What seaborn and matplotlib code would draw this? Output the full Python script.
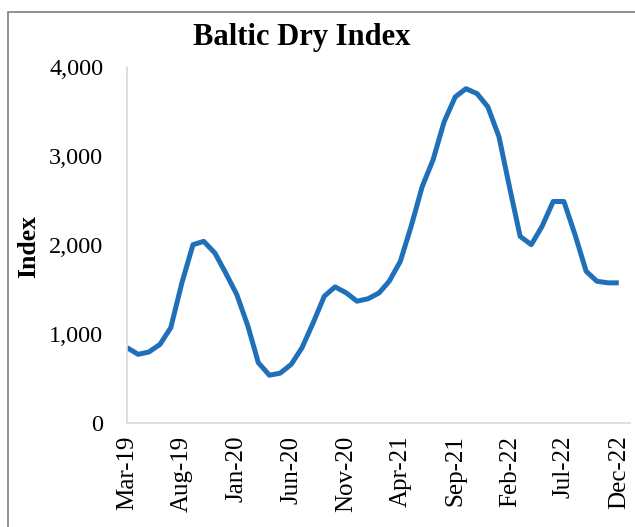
import pandas as pd
import numpy as np
import matplotlib
matplotlib.use("Agg")
import matplotlib.pyplot as plt
import matplotlib.dates as mdates
import matplotlib.ticker as mticker
from matplotlib.patches import Rectangle
import seaborn as sns

# monthly Baltic Dry Index readings, Mar-19 .. Dec-22
months = pd.date_range("2019-03-01", "2022-12-01", freq="MS")
bdi = [847, 772, 798, 884, 1071, 1575, 2004, 2041, 1910, 1687,
       1444, 1090, 679, 537, 560, 660, 847, 1127, 1425, 1530,
       1463, 1369, 1396, 1463, 1593, 1817, 2209, 2657, 2955, 3384,
       3664, 3757, 3701, 3552, 3216, 2619, 2097, 2004, 2209, 2489,
       2489, 2116, 1705, 1593, 1575, 1575]
tick_months = pd.date_range("2019-03-01", "2022-12-01", freq="5MS")
y_ticks = [0, 1000, 2000, 3000, 4000]

df = pd.DataFrame({"month": months, "bdi": bdi})

sns.set_style("white")
plt.rcParams["font.family"] = ["Liberation Serif", "DejaVu Serif"]
plt.rcParams["text.color"] = "black"
plt.rcParams["xtick.color"] = "black"
plt.rcParams["ytick.color"] = "black"
plt.rcParams["axes.labelcolor"] = "black"

fig = plt.figure(figsize=(6.35, 5.27), dpi=100)
ax = fig.add_axes([0.2, 0.1973, 0.792, 0.6755])

sns.lineplot(data=df, x="month", y="bdi", ax=ax, color="#1F70B8", linewidth=3.6,
             solid_joinstyle="round", solid_capstyle="butt")

ax.set_xlim(months[0], months[-1] + pd.Timedelta(days=31))
ax.set_ylim(0, 4000)
ax.set_xticks(tick_months)
ax.xaxis.set_major_formatter(mdates.DateFormatter("%b-%y"))
ax.set_yticks(y_ticks)
ax.yaxis.set_major_formatter(mticker.StrMethodFormatter("{x:,.0f}"))
ax.tick_params(axis="x", labelsize=18, rotation=90, length=6, color="#d9d9d9",
               labelcolor="black", pad=3)
ax.tick_params(axis="y", labelsize=17.5, length=9, color="#d9d9d9",
               labelcolor="black", pad=8)
for s in ["top", "right"]:
    ax.spines[s].set_visible(False)
for s in ["left", "bottom"]:
    ax.spines[s].set_color("#d9d9d9")
    ax.spines[s].set_linewidth(1.2)

ax.set_xlabel("")
ax.set_ylabel("")
fig.text(29 / 635, 1 - 246 / 527, "Index", fontsize=18.5, fontweight="bold",
         rotation=90, ha="center", va="center")
fig.text(302 / 635, 1 - 37 / 527, "Baltic Dry Index", fontsize=22,
         fontweight="bold", ha="center", va="center")

# chart frame (cut off at right and bottom in the original)
fig.patches.append(Rectangle((8 / 635, -0.1), 1.2, 1 - 12 / 527 + 0.1,
                             transform=fig.transFigure, fill=False,
                             edgecolor="#7f7f7f", linewidth=1.2))

fig.savefig("out.png", dpi=100)
